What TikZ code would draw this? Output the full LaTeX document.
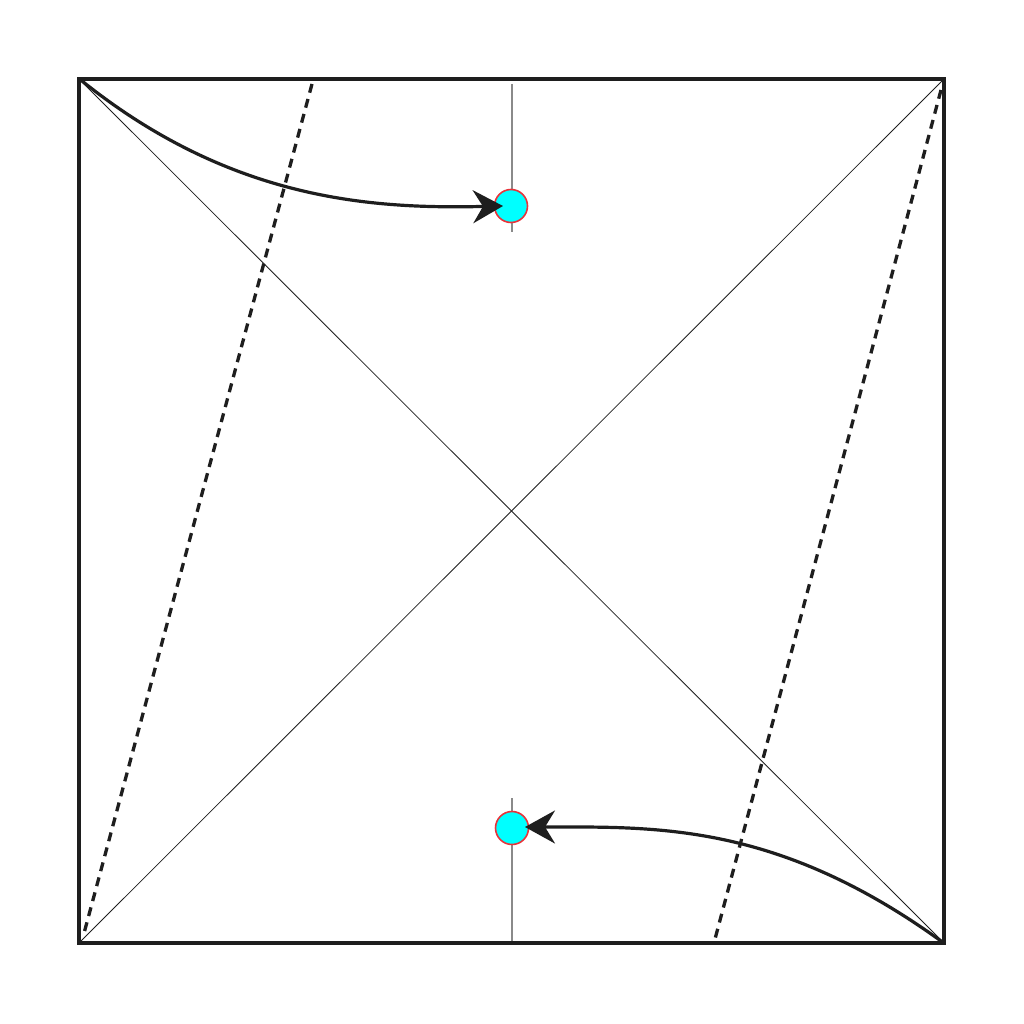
\documentclass[tikz,border=0pt]{standalone}
\usetikzlibrary{arrows.meta}
\definecolor{ink}{HTML}{1E1E1E}
\definecolor{guide}{HTML}{8A8A8A}
\definecolor{dotfill}{HTML}{00FFFF}
\definecolor{dotline}{HTML}{E8333A}
\tikzset{
  frame/.style={draw=ink, line width=4.5pt},
  diag/.style={draw=ink, line width=0.8pt},
  fold/.style={draw=ink, line width=3.3pt, dash pattern=on 9pt off 6.5pt},
  guideline/.style={draw=guide, line width=1.6pt},
  dot/.style={circle, draw=dotline, fill=dotfill, line width=1.6pt, minimum size=33pt, inner sep=0pt},
  move/.style={draw=ink, line width=3.2pt, -{Stealth[length=30pt, width=33pt, inset=10pt]}}
}
\begin{document}
\begin{tikzpicture}[x=1pt, y=-1pt]
\useasboundingbox (0,0) rectangle (1024,1024);
\coordinate (tl) at (79,79);
\coordinate (tr) at (944,79);
\coordinate (br) at (944,943);
\coordinate (bl) at (79,943);
% guides
\coordinate (g1) at (512,84);
\coordinate (g2) at (512,232);
\coordinate (g3) at (512,798);
\coordinate (g4) at (512,943);
\draw[guideline] (g1) -- (g2);
\draw[guideline] (g3) -- (g4);
% diagonals
\draw[diag] (tl) -- (br);
\draw[diag] (tr) -- (bl);
% dashed folds
\coordinate (d1a) at (312,84);
\coordinate (d1b) at (83,937);
\coordinate (d2a) at (941,90);
\coordinate (d2b) at (715,939);
\draw[fold] (d1a) -- (d1b);
\draw[fold] (d2a) -- (d2b);
% frame
\draw[frame] (tl) rectangle (br);
% dots
\node[dot] (ctop) at (511,206) {};
\node[dot] (cbot) at (512,828) {};
% arrows
\coordinate (s1) at (82,81);
\coordinate (s2) at (941,941);
\coordinate (e1) at (503,206);
\coordinate (e2) at (525,827);
\draw[move] (s1) .. controls (232,201) and (373,209) .. (e1);
\draw[move] (s2) .. controls (776,822) and (655,827) .. (e2);
\end{tikzpicture}
\end{document}
